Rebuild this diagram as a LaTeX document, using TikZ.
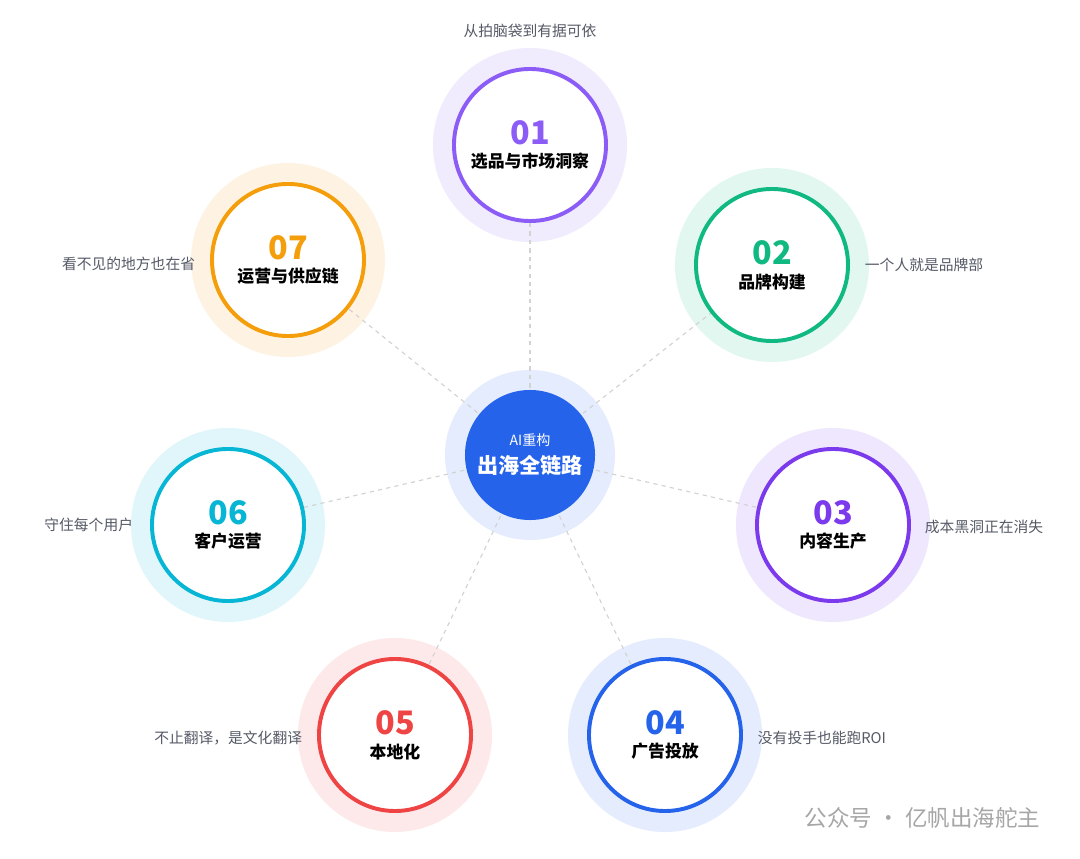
\documentclass[tikz,border=0pt]{standalone}
\usepackage{fontspec}
\setmainfont{Noto Sans CJK SC}
\definecolor{cpurple}{HTML}{8B5CF6}
\definecolor{cgreen}{HTML}{10B981}
\definecolor{cviolet}{HTML}{7C3AED}
\definecolor{cblue}{HTML}{2563EB}
\definecolor{cred}{HTML}{EF4444}
\definecolor{ccyan}{HTML}{06B6D4}
\definecolor{corange}{HTML}{F59E0B}
\definecolor{ctext}{HTML}{555A66}
\newcommand{\bignum}[2]{{\color{#1}\bfseries\fontsize{23}{28}\selectfont #2}}
\tikzset{
  halo/.style={circle,minimum size=4.85cm,inner sep=0pt,fill=#1!12},
  ring/.style={circle,minimum size=3.8cm,inner sep=0pt,draw=#1,line width=2.8pt,fill=white,
    align=center,font=\bfseries\fontsize{12}{17}\selectfont},
  note/.style={text=ctext,font=\fontsize{10.5}{13}\selectfont},
  link/.style={draw=gray!35,dashed,line width=0.8pt}
}
\begin{document}
\begin{tikzpicture}[x=0.025cm,y=-0.025cm]
  \useasboundingbox[fill=white] (0,0) rectangle (1080,859);
  % halos
  \node[halo=cpurple] (h1) at (530,145) {};
  \node[halo=cgreen]  (h2) at (772,265) {};
  \node[halo=cviolet] (h3) at (833,525) {};
  \node[halo=cblue]   (h4) at (665,735) {};
  \node[halo=cred]    (h5) at (395,735) {};
  \node[halo=ccyan]   (h6) at (228,525) {};
  \node[halo=corange] (h7) at (288,260) {};
  \node[circle,minimum size=4.25cm,fill=cblue!12] (hub) at (530,455) {};
  % spokes
  \foreach \i in {1,...,7} \draw[link] (hub.center) -- (h\i.center);
  \node[circle,minimum size=3.25cm,fill=cblue,text=white,align=center,
    font=\fontsize{15}{20}\selectfont] (core) at (530,455)
    {{\fontsize{10}{11}\selectfont AI重构}\\{\bfseries 出海全链路}};
  % rings
  \node[ring=cpurple] (s1) at (h1) {\bignum{cpurple}{01}\\选品与市场洞察};
  \node[ring=cgreen]  (s2) at (h2) {\bignum{cgreen}{02}\\品牌构建};
  \node[ring=cviolet] (s3) at (h3) {\bignum{cviolet}{03}\\内容生产};
  \node[ring=cblue]   (s4) at (h4) {\bignum{cblue}{04}\\广告投放};
  \node[ring=cred]    (s5) at (h5) {\bignum{cred}{05}\\本地化};
  \node[ring=ccyan]   (s6) at (h6) {\bignum{ccyan}{06}\\客户运营};
  \node[ring=corange] (s7) at (h7) {\bignum{corange}{07}\\运营与供应链};
  % notes
  \node[note] (n1) at (530,31) {从拍脑袋到有据可依};
  \node[note,anchor=west] (n2) at (860,265) {一个人就是品牌部};
  \node[note,anchor=west] (n3) at (920,527) {成本黑洞正在消失};
  \node[note,anchor=west] (n4) at (753,738) {没有投手也能跑ROI};
  \node[note,anchor=east] (n5) at (307,738) {不止翻译，是文化翻译};
  \node[note,anchor=east] (n6) at (138,525) {守住每个用户};
  \node[note,anchor=east] (n7) at (200,264) {看不见的地方也在省};
  \node[anchor=east,text=gray!70,font=\fontsize{16}{19}\selectfont] (wm) at (1045,818) {公众号 · 亿帆出海舵主};
\end{tikzpicture}
\end{document}
